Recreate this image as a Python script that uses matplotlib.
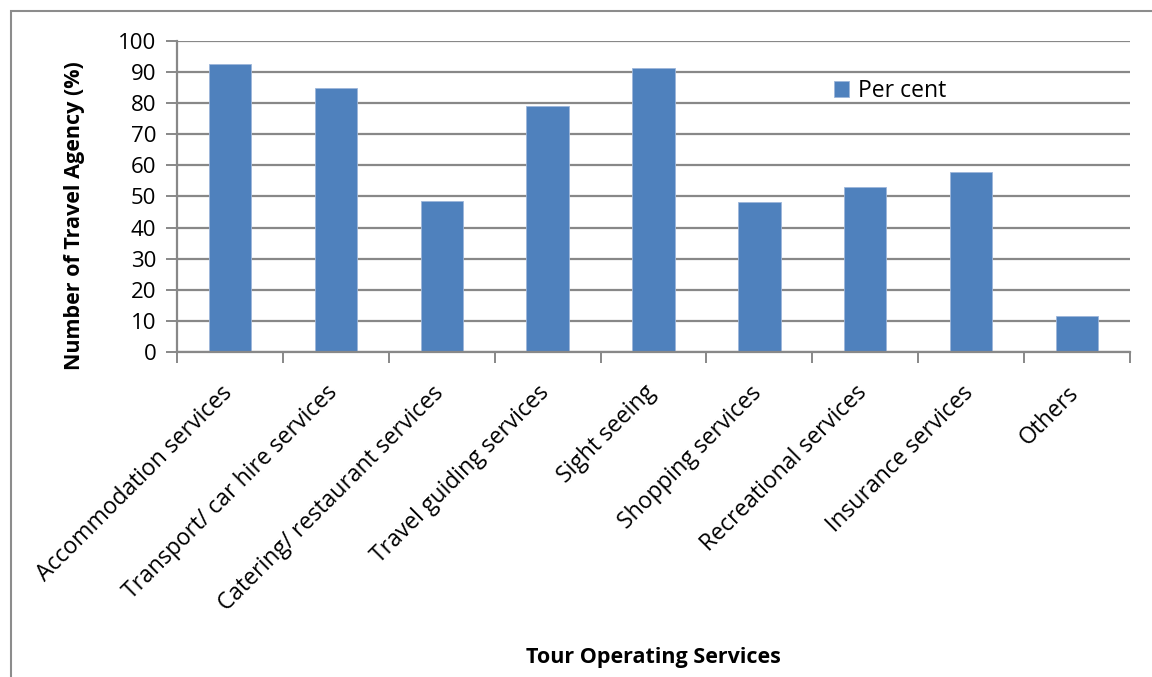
import matplotlib
matplotlib.use("Agg")
import matplotlib.pyplot as plt
from matplotlib.patches import Rectangle

categories = [
    "Accommodation services",
    "Transport/ car hire services",
    "Catering/ restaurant services",
    "Travel guiding services",
    "Sight seeing",
    "Shopping services",
    "Recreational services",
    "Insurance services",
    "Others",
]
per_cent = [92.7, 85.0, 48.6, 79.0, 91.3, 48.3, 53.1, 58.0, 11.6]
y_ticks = list(range(0, 101, 10))

plt.rcParams["font.family"] = ["Open Sans", "DejaVu Sans"]

BAR = "#4F81BD"
GRID = "#888888"

fig = plt.figure(figsize=(11.52, 6.77), dpi=100)
fig.patch.set_facecolor("white")

# outer chart frame
fig.add_artist(Rectangle((11 / 1152, -0.05), 1.2, 1 - 11 / 677 + 0.05,
                         transform=fig.transFigure, fill=False,
                         edgecolor="#8c8c8c", linewidth=1.5))

ax = fig.add_axes([177 / 1152, 1 - 352 / 677, (1130 - 177) / 1152, (352 - 41) / 677])

x = list(range(len(categories)))
ax.bar(x, per_cent, width=0.4, color=BAR, edgecolor="#9db6da",
       linewidth=0.6, label="Per cent", zorder=3)

ax.set_xlim(-0.5, len(categories) - 0.5)
ax.set_ylim(0, 100)
ax.set_yticks(y_ticks)
ax.set_yticklabels([str(v) for v in y_ticks], fontsize=16)
ax.yaxis.grid(True, color=GRID, linewidth=1.6, zorder=0)
ax.set_axisbelow(True)

for side in ("top", "right"):
    ax.spines[side].set_visible(False)
for side in ("left", "bottom"):
    ax.spines[side].set_color(GRID)
    ax.spines[side].set_linewidth(1.6)
ax.spines["bottom"].set_zorder(4)

ax.tick_params(axis="y", length=8, width=1.4, color=GRID, pad=7)

# category boundary ticks on the x axis
ax.set_xticks([i - 0.5 for i in range(len(categories) + 1)], minor=False)
ax.set_xticklabels([])
ax.tick_params(axis="x", which="major", length=8, width=1.4, color=GRID, direction="out")
for i, lab in enumerate(categories):
    ax.annotate(lab, xy=(i, 0), xycoords=("data", "axes fraction"),
                xytext=(-1, -27), textcoords="offset points",
                rotation=45, rotation_mode="anchor", ha="right", va="center",
                fontsize=16.5)

fig.text(75 / 1152, 1 - 216 / 677, "Number of Travel Agency (%)", rotation=90,
         ha="center", va="center", fontsize=15.5, fontweight="bold")
fig.text(653 / 1152, 1 - 658 / 677, "Tour Operating Services",
         ha="center", va="center", fontsize=15.5, fontweight="bold")

ax.legend(loc="center left", bbox_to_anchor=((834 - 177) / (1130 - 177), (352 - 91) / (352 - 41)),
          frameon=False, fontsize=16.5, handlelength=0.65, handleheight=0.65,
          handletextpad=0.4, borderaxespad=0, borderpad=0)

fig.savefig("out.png", dpi=100, facecolor="white")
